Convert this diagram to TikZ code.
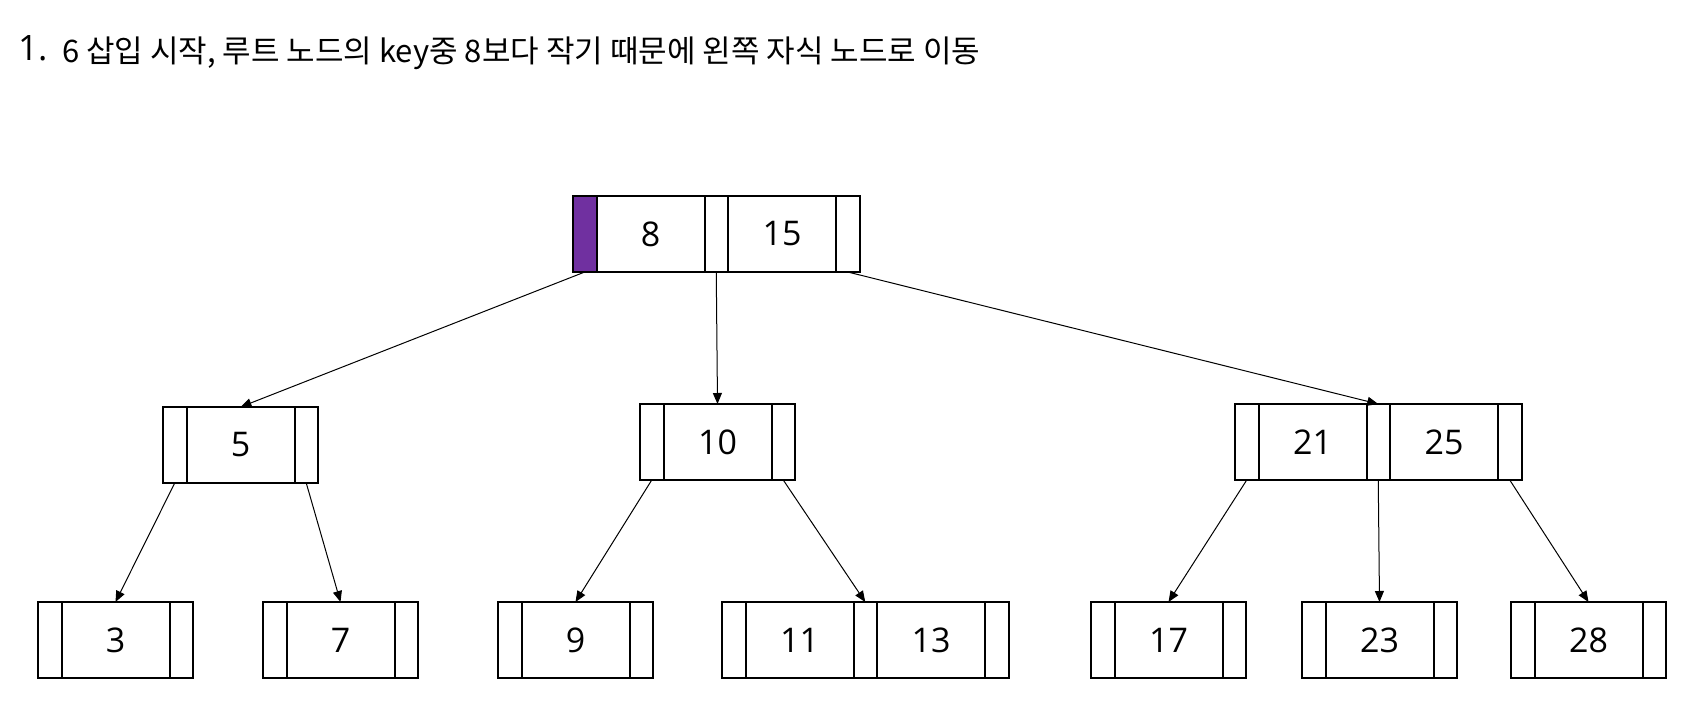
\documentclass[tikz,border=0pt]{standalone}
\usepackage{fontspec}
\newfontfamily\krfont{Noto Sans CJK KR}
\newfontfamily\numfont{Open Sans}
\usetikzlibrary{arrows.meta}
\definecolor{ptrpurple}{HTML}{7030A0}
\tikzset{
  cell/.style={draw=black, line width=2pt, inner sep=0pt, outer sep=0pt, minimum height=76pt, anchor=west},
  ptrcell/.style={cell, minimum width=23.5pt},
  keycell/.style={cell, minimum width=108pt, font=\numfont\fontsize{34}{40}\selectfont},
  link/.style={line width=1pt, -{Triangle[length=11pt,width=9pt]}},
}
\newcommand\onekey[4]{%
  \node[ptrcell] (#1p0) at (#2,#3) {};
  \node[keycell] (#1k1) at (#1p0.east) {#4};
  \node[ptrcell] (#1p1) at (#1k1.east) {};}
\newcommand\twokey[5]{%
  \node[ptrcell] (#1p0) at (#2,#3) {};
  \node[keycell] (#1k1) at (#1p0.east) {#4};
  \node[ptrcell] (#1p1) at (#1k1.east) {};
  \node[keycell] (#1k2) at (#1p1.east) {#5};
  \node[ptrcell] (#1p2) at (#1k2.east) {};}
\begin{document}
\begin{tikzpicture}[x=1pt,y=-1pt]
\useasboundingbox (0,0) rectangle (1692,709);
% title
\node[anchor=base west, inner sep=0pt, font=\numfont\fontsize{35}{40}\selectfont] (num) at (18,61) {1.};
\node[anchor=base west, inner sep=0pt, font=\krfont\fontsize{31}{36}\selectfont] (title) at (62,63) {6 삽입 시작, 루트 노드의 key중 8보다 작기 때문에 왼쪽 자식 노드로 이동};
% root
\node[ptrcell, fill=ptrpurple] (rp0) at (573,234) {};
\node[keycell] (rk1) at (rp0.east) {8};
\node[ptrcell] (rp1) at (rk1.east) {};
\node[keycell] (rk2) at (rp1.east) {15};
\node[ptrcell] (rp2) at (rk2.east) {};
% level 1
\onekey{a}{163}{445}{5}
\onekey{b}{640}{442}{10}
\twokey{c}{1235}{442}{21}{25}
% leaves
\onekey{d}{38}{640}{3}
\onekey{e}{263}{640}{7}
\onekey{f}{498}{640}{9}
\twokey{g}{722}{640}{11}{13}
\onekey{h}{1091}{640}{17}
\onekey{i}{1302}{640}{23}
\onekey{j}{1511}{640}{28}
% connectors
\draw[link] (rp0.south) -- (ak1.north);
\draw[link] (rp1.south) -- (bk1.north);
\draw[link] (rp2.south) -- (cp1.north);
\draw[link] (ap0.south) -- (dk1.north);
\draw[link] (ap1.south) -- (ek1.north);
\draw[link] (bp0.south) -- (fk1.north);
\draw[link] (bp1.south) -- (gp1.north);
\draw[link] (cp0.south) -- (hk1.north);
\draw[link] (cp1.south) -- (ik1.north);
\draw[link] (cp2.south) -- (jk1.north);
\end{tikzpicture}
\end{document}
